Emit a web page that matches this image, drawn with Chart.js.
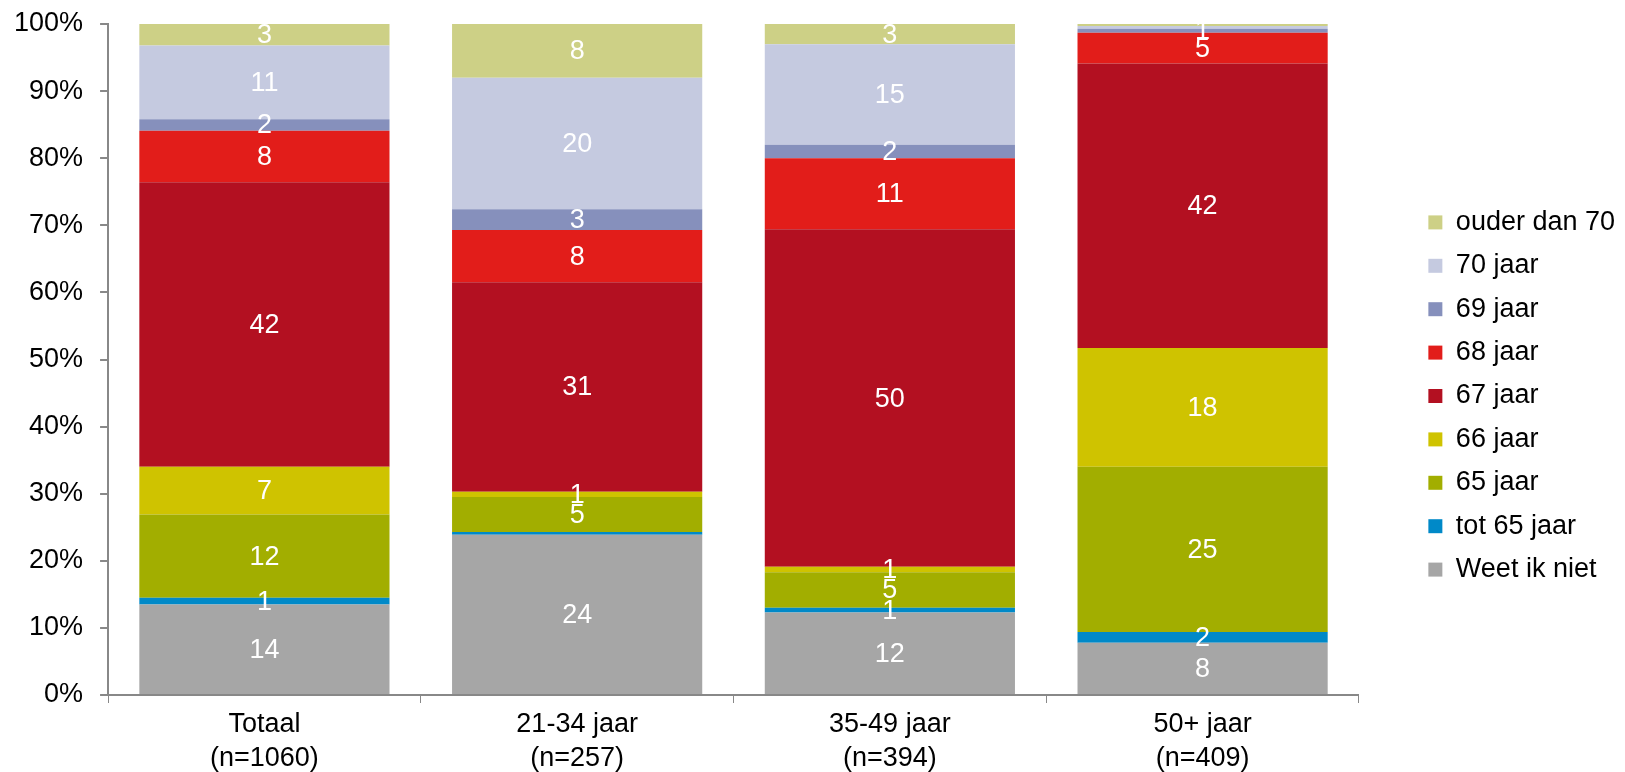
<!DOCTYPE html>
<html>
<head>
<meta charset="utf-8">
<script src="https://cdn.jsdelivr.net/npm/chart.js@4/dist/chart.umd.min.js"></script>
<style>
  html, body { margin: 0; padding: 0; background: #fff; }
  #wrap { width: 1625px; height: 772px; position: relative; }
</style>
</head>
<body>
<div id="wrap"><canvas id="chart"></canvas></div>
<script>
// categories (two-line labels)
const categories = [
    ['Totaal', '(n=1060)'],
    ['21-34 jaar', '(n=257)'],
    ['35-49 jaar', '(n=394)'],
    ['50+ jaar', '(n=409)']
];

// series, bottom to top, values in %
const weetIkNiet = [13.5, 23.9, 12.3, 7.8];
const tot65      = [1.0, 0.4, 0.7, 1.6];
const jaar65     = [12.4, 5.2, 5.3, 24.6];
const jaar66     = [7.1, 0.8, 0.8, 17.7];
const jaar67     = [42.4, 31.2, 50.3, 42.4];
const jaar68     = [7.7, 7.8, 10.6, 4.6];
const jaar69     = [1.7, 3.1, 2.0, 0.6];
const jaar70     = [11.0, 19.6, 15.0, 0.4];
const ouder70    = [3.2, 8.0, 3.0, 0.3];

const seriesNames = ['Weet ik niet', 'tot 65 jaar', '65 jaar', '66 jaar', '67 jaar', '68 jaar', '69 jaar', '70 jaar', 'ouder dan 70'];
const seriesColors = ['#a6a6a6', '#0089c8', '#a2ae00', '#cfc300', '#b31021', '#e21d1a', '#8690bc', '#c5cae0', '#cdd086'];
const seriesData = [weetIkNiet, tot65, jaar65, jaar66, jaar67, jaar68, jaar69, jaar70, ouder70];

const yTicks = [0, 10, 20, 30, 40, 50, 60, 70, 80, 90, 100];

const FONT = '"Liberation Sans", Arial, sans-serif';
const FONT_SIZE = 27;
const LEGEND_GAP = 53;
const LEGEND_SHIFT_Y = 10;

// white value labels in the middle of every segment
const segmentLabels = {
    id: 'segmentLabels',
    afterDatasetsDraw(chart) {
        const ctx = chart.ctx;
        ctx.save();
        ctx.font = FONT_SIZE + 'px ' + FONT;
        ctx.fillStyle = '#ffffff';
        ctx.textAlign = 'center';
        ctx.textBaseline = 'middle';
        chart.data.datasets.forEach((ds, i) => {
            chart.getDatasetMeta(i).data.forEach((bar, j) => {
                const v = ds.data[j];
                if (v < 0.5) return;
                const mid = (bar.y + bar.base) / 2;
                ctx.fillText(Math.round(v), bar.x, mid + 1);
            });
        });
        ctx.restore();
    }
};

// leave white space between plot and legend
const legendGap = {
    id: 'legendGap',
    beforeLayout(chart) {
        const lg = chart.legend;
        if (lg && !lg._gapPatched) {
            const fit = lg.fit;
            lg.fit = function () { fit.call(this); this.width += LEGEND_GAP; };
            lg._gapPatched = true;
        }
    },
    afterLayout(chart) {
        chart.legend.left += LEGEND_GAP;
        chart.legend.top += LEGEND_SHIFT_Y;
        chart.legend.bottom += LEGEND_SHIFT_Y;
    }
};

const config = {
    type: 'bar',
    data: {
        labels: categories,
        datasets: seriesNames.map((name, i) => ({
            label: name,
            data: seriesData[i],
            backgroundColor: seriesColors[i],
            borderWidth: 0,
            categoryPercentage: 0.8,
            barPercentage: 1.0
        }))
    },
    options: {
        responsive: true,
        maintainAspectRatio: false,
        animation: false,
        layout: { padding: { top: 0, left: -3, right: 0, bottom: 0 } },
        plugins: {
            tooltip: { enabled: false },
            legend: {
                position: 'right',
                reverse: true,
                labels: {
                    boxWidth: 14,
                    boxHeight: 14,
                    padding: 16.4,
                    color: '#000',
                    font: { family: FONT, size: FONT_SIZE }
                }
            }
        },
        scales: {
            x: {
                stacked: true,
                border: { color: '#888', width: 2 },
                grid: { offset: true, drawOnChartArea: false, drawTicks: true, tickLength: 8, color: '#888', lineWidth: 1 },
                ticks: { color: '#000', padding: 5, font: { family: FONT, size: FONT_SIZE, lineHeight: 1.25 }, maxRotation: 0 },
                afterFit(scale) { scale.height = 77; }
            },
            y: {
                stacked: true,
                min: 0,
                max: 100,
                afterBuildTicks(scale) { scale.ticks = yTicks.map(v => ({ value: v })); },
                afterFit(scale) { scale.paddingTop = 24; scale.paddingBottom = 16; },
                border: { color: '#888', width: 2 },
                grid: { drawOnChartArea: false, drawTicks: true, tickLength: 8, color: '#888', lineWidth: 2 },
                ticks: { color: '#000', padding: 17, font: { family: FONT, size: FONT_SIZE }, callback: v => v + '%' }
            }
        }
    },
    plugins: [segmentLabels, legendGap]
};

new Chart(document.getElementById('chart'), config);
</script>
</body>
</html>
